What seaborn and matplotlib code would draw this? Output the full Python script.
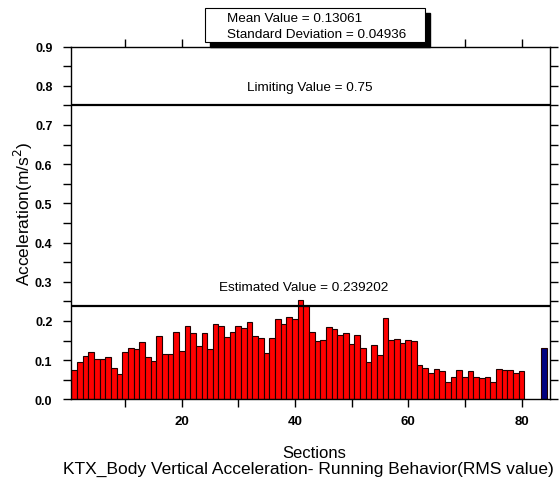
import matplotlib
matplotlib.use("Agg")
import matplotlib.pyplot as plt
from matplotlib.patches import Rectangle
from matplotlib.ticker import MultipleLocator
import pandas as pd
import seaborn as sns

# RMS body vertical acceleration per section (m/s^2)
sections = list(range(1, 81))
rms_values = [
    0.076, 0.094, 0.111, 0.120, 0.103, 0.103, 0.107, 0.079, 0.064, 0.120,
    0.132, 0.129, 0.145, 0.109, 0.098, 0.161, 0.116, 0.116, 0.171, 0.122,
    0.186, 0.168, 0.137, 0.168, 0.128, 0.191, 0.186, 0.158, 0.171, 0.187,
    0.183, 0.197, 0.162, 0.156, 0.118, 0.156, 0.206, 0.191, 0.211, 0.204,
    0.253, 0.237, 0.171, 0.150, 0.152, 0.185, 0.179, 0.163, 0.168, 0.140,
    0.163, 0.131, 0.095, 0.139, 0.113, 0.207, 0.151, 0.155, 0.144, 0.151,
    0.148, 0.088, 0.079, 0.068, 0.078, 0.071, 0.044, 0.056, 0.074, 0.058,
    0.071, 0.058, 0.055, 0.057, 0.044, 0.077, 0.076, 0.074, 0.067, 0.072,
]
mean_section = 84
mean_value = 0.13061
std_value = 0.04936
limiting_value = 0.75
estimated_value = 0.239202

x_ticks = [20, 40, 60, 80]
x_tick_labels = ["20", "40", "60", "80"]
y_ticks = [0.0, 0.1, 0.2, 0.3, 0.4, 0.5, 0.6, 0.7, 0.8, 0.9]
y_tick_labels = ["0.0", "0.1", "0.2", "0.3", "0.4", "0.5", "0.6", "0.7", "0.8", "0.9"]

sns.set_theme(style="ticks")
plt.rcParams["font.family"] = ["Liberation Sans", "DejaVu Sans"]
plt.rcParams["axes.edgecolor"] = "black"
plt.rcParams["xtick.color"] = "black"
plt.rcParams["ytick.color"] = "black"
plt.rcParams["text.color"] = "black"
plt.rcParams["axes.labelcolor"] = "black"

df = pd.DataFrame({
    "Section": sections + [mean_section],
    "RMS": rms_values + [mean_value],
    "kind": ["section"] * len(sections) + ["mean"],
})

fig = plt.figure(figsize=(5.6, 4.81), dpi=100)
ax = fig.add_axes([0.1271, 0.1678, 0.8550, 0.7332])

sns.barplot(
    data=df, x="Section", y="RMS", hue="kind",
    palette={"section": "#FF0000", "mean": "#000080"}, saturation=1,
    native_scale=True, dodge=False, width=1.0, errorbar=None,
    edgecolor="#200000", linewidth=0.8, legend=False, ax=ax,
)

# reference levels
ax.axhline(limiting_value, color="black", lw=1.6, zorder=3)
ax.axhline(estimated_value, color="black", lw=1.6, zorder=3)
ax.annotate(f"Limiting Value = {limiting_value}", xy=(42.6, limiting_value),
            xytext=(0, 13), textcoords="offset points",
            ha="center", va="center", fontsize=9.7)
ax.annotate(f"Estimated Value = {estimated_value}", xy=(41.6, estimated_value),
            xytext=(0, 13.5), textcoords="offset points",
            ha="center", va="center", fontsize=9.7)

ax.set_xlim(0.5, 85)
ax.set_ylim(0, 0.9)
ax.set_xticks(x_ticks, labels=x_tick_labels, fontweight="bold", fontsize=9.5)
ax.set_yticks(y_ticks, labels=y_tick_labels, fontweight="bold", fontsize=9)
ax.xaxis.set_minor_locator(MultipleLocator(10))
ax.yaxis.set_minor_locator(MultipleLocator(0.05))
ax.tick_params(which="both", direction="out", top=True, right=True,
               length=5.5, width=1)
ax.tick_params(axis="x", pad=5.5)
ax.tick_params(axis="y", pad=8)
for side in ax.spines.values():
    side.set_linewidth(1.0)
    side.set_color("black")

ax.set_xlabel("Sections", fontsize=12, labelpad=13)
ax.xaxis.label.set_x(0.508)
ax.set_ylabel("Acceleration(m/s$^2$)", fontsize=12.5)
ax.yaxis.set_label_coords(-0.075, 0.53)
fig.text(0.551, 1 - 469 / 481, "KTX_Body Vertical Acceleration- Running Behavior(RMS value)",
         ha="center", va="center", fontsize=12.5)

# statistics box with drop shadow
px_w, px_h = 560.0, 481.0
bx0, bx1, by_top, by_bot = 205, 425, 9, 43
shadow = Rectangle(((bx0 + 5) / px_w, 1 - (by_bot + 5) / px_h),
                   (bx1 - bx0) / px_w, (by_bot - by_top) / px_h,
                   transform=fig.transFigure, facecolor="black",
                   edgecolor="black", zorder=10)
box = Rectangle((bx0 / px_w, 1 - by_bot / px_h),
                (bx1 - bx0) / px_w, (by_bot - by_top) / px_h,
                transform=fig.transFigure, facecolor="white",
                edgecolor="black", lw=0.8, zorder=11)
fig.patches.extend([shadow, box])
fig.text(227 / px_w, 1 - 19.5 / px_h, f"Mean Value = {mean_value}",
         ha="left", va="center", fontsize=9.7, zorder=12)
fig.text(227 / px_w, 1 - 35.5 / px_h, f"Standard Deviation = {std_value}",
         ha="left", va="center", fontsize=9.7, zorder=12)

fig.savefig("out.png", dpi=100)
